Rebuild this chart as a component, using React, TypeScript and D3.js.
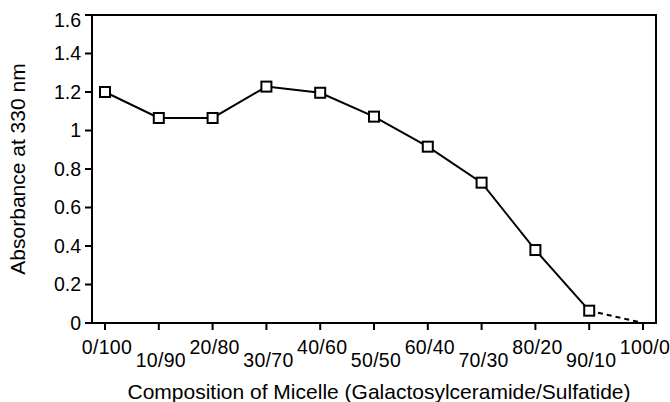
import React from "react";
import * as d3 from "d3";

const categories = ["0/100", "10/90", "20/80", "30/70", "40/60", "50/50", "60/40", "70/30", "80/20", "90/10", "100/0"];
const measured = [1.2, 1.065, 1.065, 1.228, 1.196, 1.072, 0.916, 0.729, 0.379, 0.064];
const extrapolated = [0.064, 0];
const yTicks = [0, 0.2, 0.4, 0.6, 0.8, 1, 1.2, 1.4, 1.6];

const W = 670;
const H = 402;
const left = 92;
const right = 656;
const top = 15;
const bottom = 323;
const font = "'Liberation Sans', Arial, Helvetica, sans-serif";
const tickFont = 19.5;
const titleFont = 21;

export default function App() {
  const x = d3.scaleLinear().domain([0, categories.length - 1]).range([105, 643]);
  const y = d3.scaleLinear().domain([0, 1.6]).range([bottom, top]);

  const solid = d3
    .line<number>()
    .x((_, i) => x(i))
    .y((d) => y(d))(measured);
  const dashed = d3
    .line<number>()
    .x((_, i) => x(measured.length - 1 + i))
    .y((d) => y(d))(extrapolated);

  const sq = 10;

  return (
    <svg width={W} height={H} style={{ position: "absolute", left: 0, top: 0, background: "#fff" }}>
      <rect x={0} y={0} width={W} height={H} fill="#fff" />
      {/* frame */}
      <rect x={left} y={top} width={right - left} height={bottom - top} fill="none" stroke="#000" strokeWidth={2} />

      {/* y axis ticks and labels */}
      {yTicks.map((t, i) => (
        <g key={t}>
          <line x1={left - 7} x2={left} y1={y(t)} y2={y(t)} stroke="#000" strokeWidth={2} />
          <text
            x={left - 11}
            y={y(t) + (i === yTicks.length - 1 ? 5 : 0)}
            dy="0.35em"
            textAnchor="end"
            fontFamily={font}
            fontSize={tickFont}
            fill="#000"
          >
            {d3.format("~g")(t)}
          </text>
        </g>
      ))}

      {/* x axis ticks and staggered labels */}
      {categories.map((c, i) => (
        <g key={c}>
          <line x1={x(i)} x2={x(i)} y1={bottom} y2={bottom + 7} stroke="#000" strokeWidth={2} />
          <text
            x={x(i) + 2}
            y={i % 2 === 0 ? 354 : 367}
            textAnchor="middle"
            fontFamily={font}
            fontSize={tickFont}
            letterSpacing={0.3}
            fill="#000"
          >
            {c}
          </text>
        </g>
      ))}

      {/* data line */}
      <path d={dashed ?? ""} fill="none" stroke="#000" strokeWidth={2} strokeDasharray="5,4" />
      <path d={solid ?? ""} fill="none" stroke="#000" strokeWidth={2} />
      {measured.map((v, i) => (
        <rect
          key={i}
          x={x(i) - sq / 2}
          y={y(v) - sq / 2}
          width={sq}
          height={sq}
          fill="#fff"
          stroke="#000"
          strokeWidth={2}
        />
      ))}

      {/* axis titles */}
      <text
        x={379}
        y={399}
        textAnchor="middle"
        fontFamily={font}
        fontSize={titleFont}
        fill="#000"
      >
        Composition of Micelle (Galactosylceramide/Sulfatide)
      </text>
      <text
        transform={`translate(25, ${(top + bottom) / 2}) rotate(-90)`}
        textAnchor="middle"
        fontFamily={font}
        fontSize={titleFont}
        fill="#000"
      >
        Absorbance at 330 nm
      </text>
    </svg>
  );
}
